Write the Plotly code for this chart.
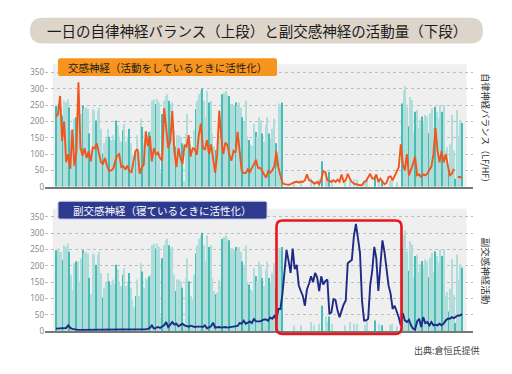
import plotly.graph_objects as go

# The page body keeps an 8px default margin, so the figure is drawn 8px smaller
# and all layout pixel positions are measured in window coordinates minus 8.
OFF = 8
W, H = 512 - OFF, 374 - OFF

title = "一日の自律神経バランス（上段）と副交感神経の活動量（下段）"
label_top = "交感神経（活動をしているときに活性化）"
label_bottom = "副交感神経（寝ているときに活性化）"
axis_title_top = "自律神経バランス（LF/HF）"
axis_title_bottom = "副交感神経活動"
source = "出典:倉恒氏提供"
y_ticks = [0, 50, 100, 150, 200, 250, 300, 350]

# teal bars (same series shown in both panels)
activity = [
    248, 253, 243, 243, 218, 263, 258, 268, 243, 173,
    128, 208, 213, 213, 153, 223, 248, 238, 243, 238,
    163, 113, 238, 233, 203, 233, 243, 178, 103, 133,
    148, 178, 153, 143, 158, 143, 203, 188, 148, 138,
    173, 193, 138, 153, 178, 133, 98, 73, 108, 158,
    108, 208, 183, 133, 163, 158, 168, 173, 263, 268,
    253, 268, 258, 43, 223, 263, 278, 283, 263, 253,
    258, 173, 123, 158, 158, 153, 133, 18,
    163, 223, 153, 108, 98, 173, 238, 263, 283, 293,
    301, 263, 213, 293, 258, 263, 163, 123, 113, 118,
    158, 138, 283, 288, 293, 283, 278, 253, 253, 248,
    258, 248, 258, 243, 213, 198, 263, 153, 143, 128,
    123, 193, 168, 153, 213, 203, 163, 138, 188, 213,
    163, 148, 178, 208, 133, 60,
    255, 245, 258, 0, 0, 0, 0, 0, 0, 18,
    0, 0, 0, 18, 0, 0, 0, 0, 0, 28,
    0, 18, 0, 0, 23, 0, 78, 0, 45, 28,
    45, 0, 23, 0, 0, 0, 0, 0, 0, 0,
    18, 0, 0, 28, 0, 23, 0, 23, 0, 0,
    0, 0, 20, 28, 0, 0, 0, 0, 33, 0,
    23, 0, 18, 0, 0, 0, 0, 20, 23, 0,
    0, 15, 0, 0, 255,
    295, 308, 245, 185, 275, 265, 165, 230, 235, 180,
    205, 215, 195, 220, 215, 165, 225, 240, 180, 245,
    230, 210, 250, 230, 250, 110, 120, 60, 130, 220,
    110, 25, 235, 155, 205, 195,
]

# orange line: sympathetic (LF/HF)
sympathetic = [
    215, 222, 278, 140, 200, 75, 100, 55, 175, 65,
    110, 320, 120, 95, 118, 88, 108, 78, 120, 118,
    133, 98, 75, 70, 88, 65, 48, 50, 55, 78,
    95, 100, 60, 63, 53, 65, 48, 45, 78, 110,
    115, 40, 58, 68, 170, 125, 155, 78, 118, 98,
    105, 88, 80, 240, 180, 118, 140, 232, 110, 60,
    118, 88, 70, 128, 123, 158, 93, 118, 115, 98,
    158, 193, 120, 113, 143, 100, 130, 85, 43, 98,
    233, 150, 100, 135, 128, 98, 80, 110, 105, 168,
    115, 50, 42, 42, 53, 45, 58, 68, 83, 58,
    58, 50, 38, 28, 48, 43, 50, 63, 108, 60,
    35, 12, 8, 6, 6, 8, 12, 14, 16, 13,
    16, 15, 20, 38, 20, 18, 13, 10, 15, 8,
    23, 48, 45, 20, 18, 15, 20, 15, 22, 16,
    38, 15, 20, 40, 25, 15, 10, 8, 5, 5,
    5, 15, 18, 30, 40, 25, 25, 38, 15, 25,
    15, 8, 12, 30, 32, 20, 33, 45, 60, 130,
    70, 50, 100, 35, 50, 70, 92, 35, 38, 30,
    38, 35, 40, 50, 62, 100, 180, 110, 75, 110,
    75, 100, 65, 35, 40, 55, None, 30, 30, 27,
]

# navy line: parasympathetic activity
parasympathetic = [
    8, 8, 9, 8, 8, 10, 18, 10, 7, 5,
    5, 4, 4, 5, 4, 4, 5, 5, 4, 4,
    5, 5, 6, 5, 4, 4, 5, 5, 5, 4,
    5, 6, 5, 5, 4, 5, 5, 6, 5, 5,
    6, 5, 5, 6, 6, 7, 10, 18, 8, 10,
    13, 10, 13, 18, 28, 13, 20, 28, 20, 23,
    15, 20, 23, 18, 15, 14, 17, 14, 13, 14,
    15, 14, 13, 18, 9, 12, 15, 26, 11, 12,
    13, 11, 12, 13, 11, 12, 13, 13, 13, 16,
    25, 23, 32, 23, 26, 30, 25, 37, 30, 30,
    30, 33, 36, 36, 32, 42, 38, 47, 35, 68,
    68, 115, 175, 248, 215, 178, 253, 190, 203, 140,
    123, 108, 78, 128, 145, 168, 150, 178, 165, 123,
    168, 143, 153, 158, 53, 58, 98, 95, 63, 43,
    63, 82, 93, 208, 213, 218, 290, 328, 285, 240,
    93, 33, 33, 38, 140, 185, 258, 223, 123, 200,
    278, 243, 198, 140, 115, 68, 78, 63, 43, 18,
    55, 33, 28, 35, 18, 8, 5, 30, 38, 13,
    43, 25, 28, 18, 28, 18, 20, 18, 23, 18,
    23, 33, 38, 38, 43, 40, 45, 48, 48, 53,
]

FONT = "Noto Sans CJK JP"
SPAN = 24.0
t_bar = [j * SPAN / (len(activity) - 1) for j in range(len(activity))]
t_sym = [i * SPAN / (len(sympathetic) - 1) for i in range(len(sympathetic))]
t_par = [i * SPAN / (len(parasympathetic) - 1) for i in range(len(parasympathetic))]
bar_colors = ["#45bcb5" if j % 4 == 0 else "#afdeda" for j in range(len(activity))]


def X(p):
    return (p - OFF) / W


def Y(p):
    return 1 - (p - OFF) / H


def rrect(x0, y0, x1, y1, r):
    return (f"M {X(x0+r)},{Y(y0)} L {X(x1-r)},{Y(y0)} Q {X(x1)},{Y(y0)} {X(x1)},{Y(y0+r)} "
            f"L {X(x1)},{Y(y1-r)} Q {X(x1)},{Y(y1)} {X(x1-r)},{Y(y1)} "
            f"L {X(x0+r)},{Y(y1)} Q {X(x0)},{Y(y1)} {X(x0)},{Y(y1-r)} "
            f"L {X(x0)},{Y(y0+r)} Q {X(x0)},{Y(y0)} {X(x0+r)},{Y(y0)} Z")


fig = go.Figure()
fig.add_trace(go.Bar(x=t_bar, y=activity, marker=dict(color=bar_colors, line=dict(width=0)),
                     width=0.065, xaxis="x", yaxis="y", hoverinfo="skip"))
fig.add_trace(go.Scatter(x=t_sym, y=sympathetic, mode="lines", line=dict(color="#f0561d", width=1.9),
                         connectgaps=False, xaxis="x", yaxis="y"))
fig.add_trace(go.Bar(x=t_bar, y=activity, marker=dict(color=bar_colors, line=dict(width=0)),
                     width=0.065, xaxis="x2", yaxis="y2", hoverinfo="skip"))
fig.add_trace(go.Scatter(x=t_par, y=parasympathetic, mode="lines", line=dict(color="#1e2a84", width=1.9),
                         xaxis="x2", yaxis="y2"))

x0, x1 = 45, 473
bx0, bx1 = 56, 462
ppu = (bx1 - bx0) / SPAN
xr = [-(bx0 - x0) / ppu, SPAN + (x1 - bx1) / ppu]
xdom = [X(x0), X(x1)]

yr = [0, 375]
top_zero, bot_zero = 189.3, 335.7
pxu = 116 / 350
top_dom = [Y(top_zero), Y(top_zero - 375 * pxu)]
bot_dom = [Y(bot_zero), Y(bot_zero - 375 * pxu)]

xaxis_common = dict(range=xr, domain=xdom, showgrid=False, zeroline=False, showticklabels=False,
                    ticks="", showline=True, linecolor="#777777", linewidth=1.5, fixedrange=True)
yaxis_common = dict(range=yr, tickvals=y_ticks, showgrid=True, gridcolor="#bdbdbd", griddash="dot",
                    gridwidth=1, zeroline=False, ticks="", showline=False,
                    tickfont=dict(family="Noto Sans", size=8, color="#8a8a8a"))

fig.update_layout(
    width=W, height=H, margin=dict(l=0, r=0, t=0, b=0),
    paper_bgcolor="white", plot_bgcolor="rgba(0,0,0,0)", showlegend=False, barmode="overlay",
    xaxis=dict(**xaxis_common, anchor="y"),
    yaxis=dict(**yaxis_common, domain=top_dom, anchor="x"),
    xaxis2=dict(**xaxis_common, anchor="y2"),
    yaxis2=dict(**yaxis_common, domain=bot_dom, anchor="x2"),
    font=dict(family=FONT),
)

shapes = [
    dict(type="rect", xref="paper", yref="paper", x0=X(52.7), x1=X(466.7), y0=Y(top_zero), y1=Y(65),
         fillcolor="#efefef", line=dict(width=0), layer="below"),
    dict(type="rect", xref="paper", yref="paper", x0=X(52.7), x1=X(466.7), y0=Y(bot_zero), y1=Y(211.5),
         fillcolor="#efefef", line=dict(width=0), layer="below"),
    dict(type="path", xref="paper", yref="paper", path=rrect(30, 18, 483, 44, 13),
         fillcolor="#ddd5c9", line=dict(width=0), layer="above"),
    dict(type="path", xref="paper", yref="paper", path=rrect(58, 59, 277, 77, 2),
         fillcolor="#f7941d", line=dict(width=0), layer="above"),
    dict(type="path", xref="paper", yref="paper", path=rrect(58, 204, 267, 222, 2),
         fillcolor="#2e3a8e", line=dict(color="#c5c9e2", width=1), layer="above"),
    dict(type="path", xref="paper", yref="paper", path=rrect(276.5, 223.5, 401.5, 338.5, 6),
         fillcolor="rgba(0,0,0,0)", line=dict(color="#e8161e", width=2.6), layer="above"),
]
fig.update_layout(shapes=shapes)

ann = [
    dict(text=title, x=X(256.5), y=Y(31), font=dict(size=14.5, color="#1a1a1a")),
    dict(text=label_top, x=X(167.5), y=Y(68), font=dict(size=10.5, color="#1a1a1a")),
    dict(text=label_bottom, x=X(162.5), y=Y(213), font=dict(size=10.5, color="#ffffff")),
    dict(text=axis_title_top, x=X(485.5), y=Y(131.5), textangle=90, font=dict(size=9, color="#333333")),
    dict(text=axis_title_bottom, x=X(485.5), y=Y(275), textangle=90, font=dict(size=9.5, color="#333333")),
    dict(text=source, x=X(446.5), y=Y(355.5), font=dict(size=9, color="#444444")),
]
for a in ann:
    a.update(xref="paper", yref="paper", showarrow=False, xanchor="center", yanchor="middle")
fig.update_layout(annotations=ann)

fig.write_html("out.html")
